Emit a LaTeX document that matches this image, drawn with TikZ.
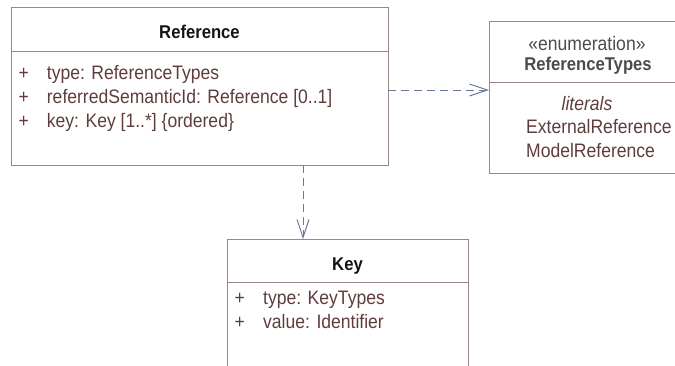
\documentclass[tikz,border=0pt]{standalone}
\usepackage{fontspec}
\setmainfont{Liberation Sans}[FakeStretch=0.9]
\usepackage{xcolor}
\usetikzlibrary{arrows.meta, positioning}

\definecolor{umlborder}{RGB}{155,135,135}
\definecolor{umltext}{RGB}{95,60,60}
\definecolor{umltitle}{RGB}{20,20,20}
\definecolor{umlgray}{RGB}{75,75,75}
\definecolor{umlarrow}{RGB}{105,120,155}

\begin{document}
\begin{tikzpicture}[x=1pt, y=1pt]
    % Define styles
    \tikzset{
        classhead/.style={rectangle, draw=umlborder, line width=1pt, inner sep=0pt, outer sep=0pt},
        classbody/.style={classhead},
        classname/.style={anchor=base, inner sep=0pt, text=umltitle, font=\fontsize{18.5}{22}\selectfont\bfseries},
        attr/.style={anchor=base west, inner sep=0pt, text=umltext, font=\fontsize{19.5}{24}\selectfont},
        depend/.style={draw=umlarrow, line width=1pt, dash pattern=on 8pt off 5pt, -{Straight Barb[length=18pt, width=12pt, line width=1pt]}}
    }
    \useasboundingbox (0,0) rectangle (675,-365);
    \clip (0,0) rectangle (675,-365);

    % Nodes
    \node[classhead, minimum width=377pt, minimum height=44pt] (refhead) at (199.5,-29) {};
    \node[classbody, minimum width=377pt, minimum height=114pt, below=0pt of refhead] (refbody) {};
    \node[classname] (refname) at (199.5,-38.5) {Reference};
    \node[attr] (refplus1) at (18.5,-79) {+};
    \node[attr] (reftype) at (46.7,-79) {type: ReferenceTypes};
    \node[attr] (refplus2) at (18.5,-103) {+};
    \node[attr] (refsem) at (46.7,-103) {referredSemanticId: Reference [0..1]};
    \node[attr] (refplus3) at (18.5,-127) {+};
    \node[attr] (refkey) at (46.7,-127) {key: Key [1..*] \{ordered\}};

    \node[classhead, minimum width=196pt, minimum height=61pt] (enumhead) at (587,-51.5) {};
    \node[classbody, minimum width=196pt, minimum height=91pt, below=0pt of enumhead] (enumbody) {};
    \node[attr, anchor=base, text=umlgray] (enumstereo) at (587,-50) {«enumeration»};
    \node[classname, text=umlgray] (enumname) at (588,-70) {ReferenceTypes};
    \node[attr, anchor=base, font=\fontsize{19.5}{24}\selectfont\itshape] (enumlit) at (587,-110) {literals};
    \node[attr] (enumext) at (526,-133) {ExternalReference};
    \node[attr] (enummodel) at (526,-157) {ModelReference};

    \node[classhead, minimum width=241pt, minimum height=43pt] (keyhead) at (347.5,-260.5) {};
    \node[classbody, minimum width=241pt, minimum height=120pt, below=0pt of keyhead] (keybody) {};
    \node[classname] (keyname) at (347.5,-270) {Key};
    \node[attr] (keyplus1) at (234.5,-304) {+};
    \node[attr] (keytype) at (263,-304) {type: KeyTypes};
    \node[attr] (keyplus2) at (234.5,-328) {+};
    \node[attr] (keyvalue) at (263,-328) {value: Identifier};

    % Arrows
    \draw[depend] ([yshift=18pt]refbody.east) -- ([yshift=18pt]refbody.east -| enumbody.west);
    \draw[depend] ([xshift=103.5pt]refbody.south) -- ([xshift=103.5pt]refbody.south |- keyhead.north);
\end{tikzpicture}
\end{document}
